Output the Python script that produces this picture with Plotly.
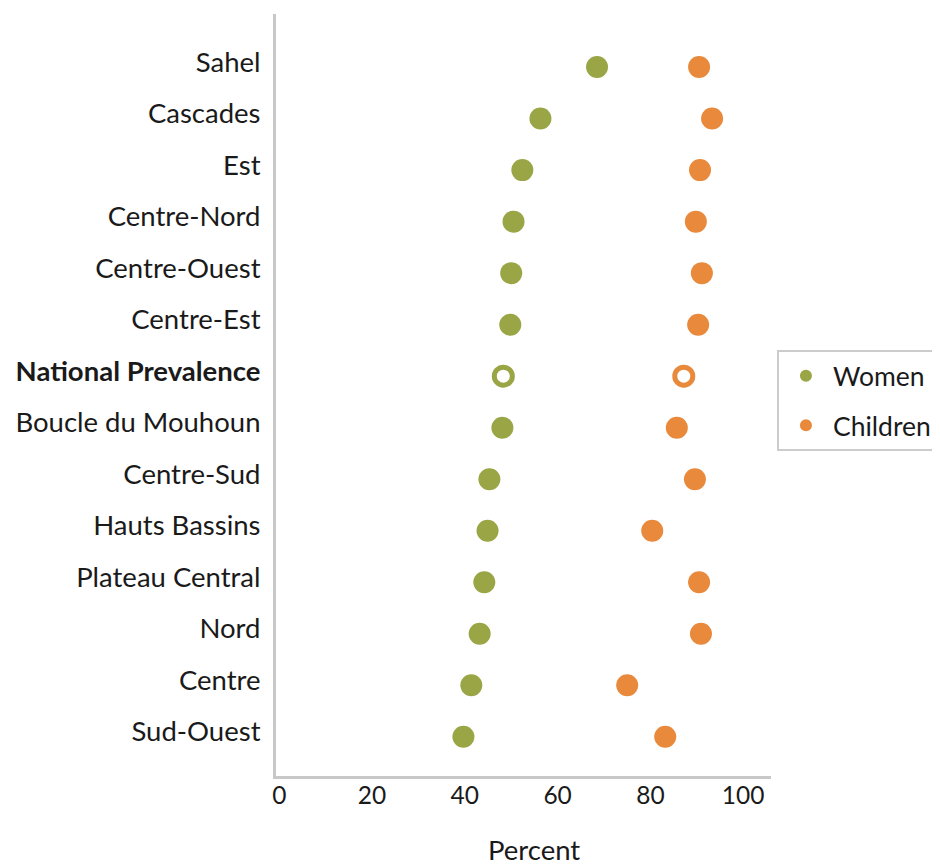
import plotly.graph_objects as go

regions = ["Sahel", "Cascades", "Est", "Centre-Nord", "Centre-Ouest", "Centre-Est",
           "National Prevalence", "Boucle du Mouhoun", "Centre-Sud", "Hauts Bassins",
           "Plateau Central", "Nord", "Centre", "Sud-Ouest"]
women = [68.5, 56.3, 52.4, 50.5, 50.0, 49.8, 48.3, 48.1, 45.3, 44.9, 44.2, 43.2, 41.4, 39.7]
children = [90.5, 93.3, 90.7, 89.8, 91.1, 90.3, 87.2, 85.7, 89.6, 80.4, 90.5, 90.9, 75.0, 83.2]
x_ticks = [0, 20, 40, 60, 80, 100]

GREEN = "#9aa545"
ORANGE = "#e8893b"

n = len(regions)
ypos = [n - i for i in range(n)]
nat = regions.index("National Prevalence")
tick_text = [f"<b>{r}</b>" if r == "National Prevalence" else r for r in regions]

fig = go.Figure()
for vals, name, color in [(women, "Women", GREEN), (children, "Children", ORANGE)]:
    solid_x = [v for i, v in enumerate(vals) if i != nat]
    solid_y = [y for i, y in enumerate(ypos) if i != nat]
    fig.add_trace(go.Scatter(
        x=solid_x, y=solid_y, mode="markers", name=name, legendgroup=name,
        marker=dict(size=22, color=color, line=dict(width=0)),
    ))
    fig.add_trace(go.Scatter(
        x=[vals[nat]], y=[ypos[nat]], mode="markers", name=name, legendgroup=name,
        showlegend=False,
        marker=dict(size=18, color="white", line=dict(color=color, width=5)),
    ))

fig.update_layout(
    width=940, height=866,
    margin=dict(l=268, r=177, t=6, b=98),
    paper_bgcolor="white", plot_bgcolor="white",
    font=dict(family="Lato, sans-serif", size=27, color="#1a1a1a"),
    showlegend=True,
    legend=dict(x=1.012, y=0.559, xanchor="left", yanchor="top",
                bordercolor="#cccccc", borderwidth=2, bgcolor="white",
                font=dict(size=26.5), itemsizing="constant", traceorder="grouped",
                tracegroupgap=12, itemwidth=44),
    xaxis=dict(range=[-0.7, 106], tickvals=x_ticks, ticktext=[str(v) for v in x_ticks],
               showgrid=False, zeroline=False, showline=True, linecolor="#c8c8c8",
               linewidth=3, ticks="", tickfont=dict(size=24.5), ticklabelstandoff=-4),
    yaxis=dict(range=[0.24, 15.03], tickvals=ypos, ticktext=tick_text,
               showgrid=False, zeroline=False, showline=True, linecolor="#c8c8c8",
               linewidth=3, ticks="", ticklabelstandoff=7, ticklabelshift=-5,
               tickfont=dict(size=27.5)),
    annotations=[dict(text="Percent", xref="paper", yref="paper", x=0.521, y=-0.096,
                      xanchor="center", yanchor="middle", showarrow=False,
                      font=dict(size=27.5))],
)

fig.write_html("out.html")
